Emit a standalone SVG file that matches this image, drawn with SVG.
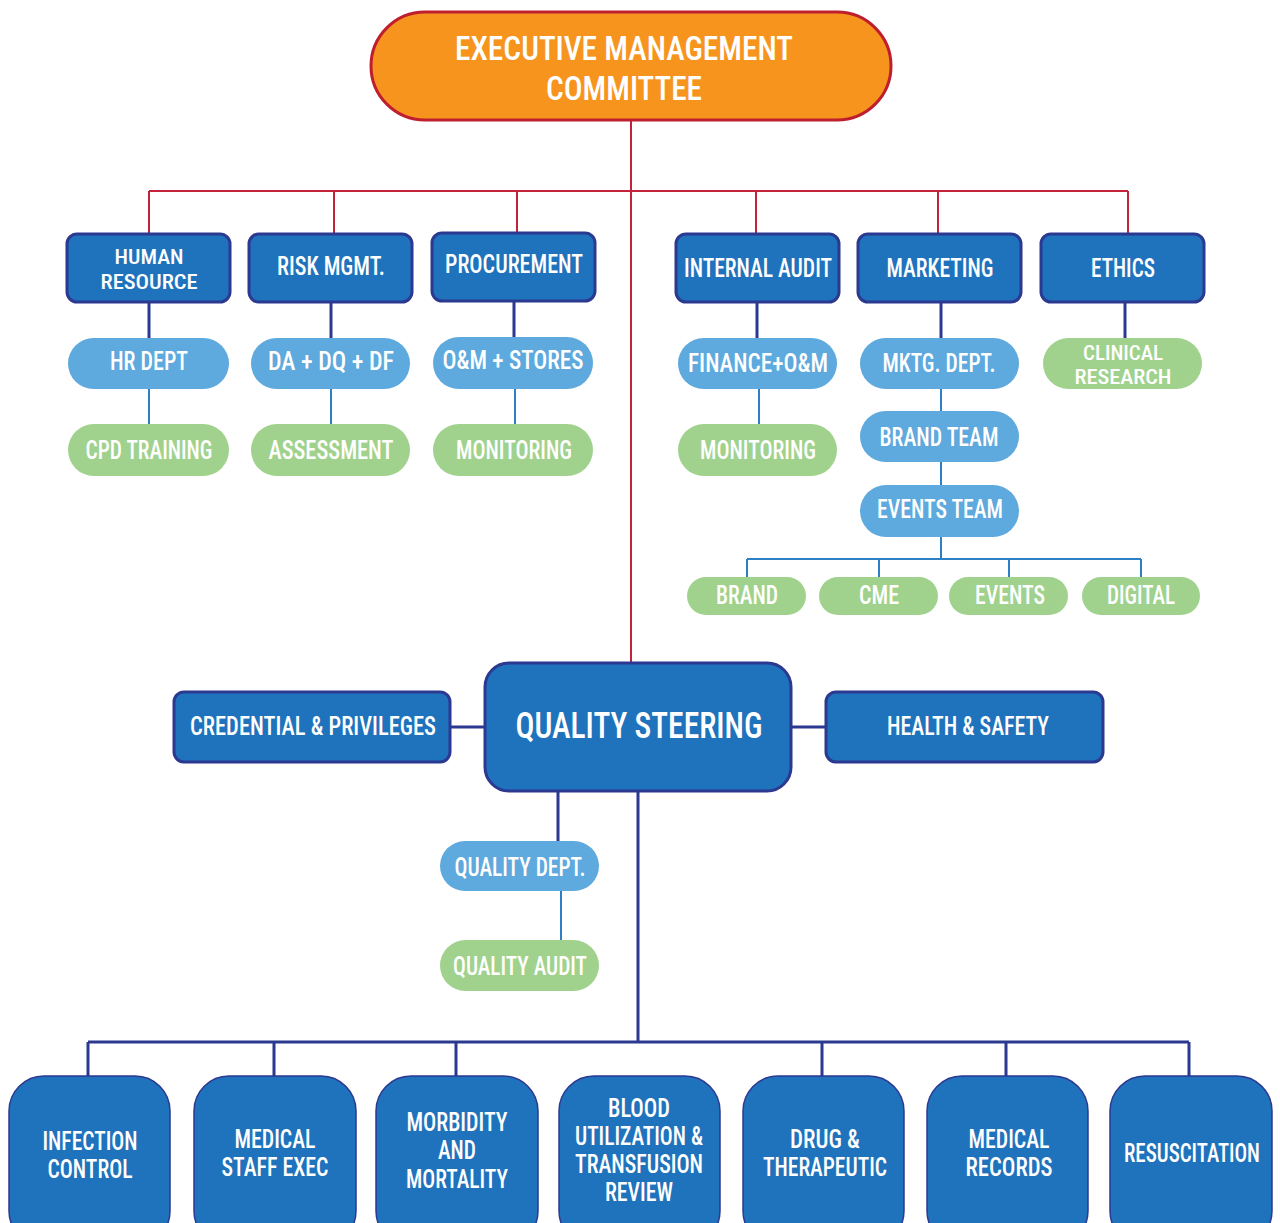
<svg xmlns="http://www.w3.org/2000/svg" width="1280" height="1223" viewBox="0 0 1280 1223">
<style>
text{font-family:"Liberation Sans Narrow","Roboto Condensed","Liberation Sans",Arial,sans-serif;fill:#fff;text-anchor:middle;font-size:25px;font-weight:500}
.xl{font-size:34px}
.qs{font-size:37px}
.sm{font-size:21px}
.dk{fill:#1F73BC;stroke:#2B3990;stroke-width:3}
.bt{fill:#1F73BC;stroke:#2B3990;stroke-width:1.5}
.lb{fill:#5EA9DD}
.gr{fill:#A0D28D}
.red{stroke:#C4213A;stroke-width:2;fill:none}
.nv{stroke:#2B3990;stroke-width:3;fill:none}
.lt{stroke:#2F7FC4;stroke-width:2;fill:none}
</style>
<rect width="1280" height="1223" fill="#fff"/>
<g id="connectors">
<path class="red" d="M631 120V662M149 191H1128M149 191V234M334 191V234M517 191V233M756 191V234M938 191V234M1128 191V234"/>
<path class="nv" d="M149 302V338M331 302V338M514 302V338M757 302V338M941 302V338M1125 302V338"/>
<path class="lt" d="M149 389V424M331 389V424M515 389V424M759 389V424M941 389V411M941 462V485M941 537V559M747 559H1141M747 559V577M879 559V577M1009 559V577M1141 559V577"/>
<path class="nv" d="M450 727H485M791 727H826M558 791V841M638 791V1042M88 1042H1189M88 1042V1076M274 1042V1076M456 1042V1076M822 1042V1076M1006 1042V1076M1189 1042V1076"/>
<path class="lt" d="M561 891V940"/>
</g>
<g id="exec"><rect x="371" y="12" width="520" height="108" rx="54" fill="#F7941E" stroke="#BE1E2D" stroke-width="3"/>
<text class="xl" x="624" y="60" textLength="338" lengthAdjust="spacingAndGlyphs">EXECUTIVE MANAGEMENT</text>
<text class="xl" x="624" y="100" textLength="156" lengthAdjust="spacingAndGlyphs">COMMITTEE</text></g>
<g id="hr"><rect class="dk" x="67" y="234" width="163" height="68" rx="10"/>
<text class="sm" x="149" y="264" textLength="69" lengthAdjust="spacingAndGlyphs">HUMAN</text>
<text class="sm" x="149" y="289" textLength="97" lengthAdjust="spacingAndGlyphs">RESOURCE</text></g>
<g id="risk"><rect class="dk" x="249" y="234" width="163" height="68" rx="10"/>
<text x="331" y="275" textLength="108" lengthAdjust="spacingAndGlyphs">RISK MGMT.</text></g>
<g id="proc"><rect class="dk" x="432" y="233" width="163" height="68" rx="10"/>
<text x="514" y="273" textLength="138" lengthAdjust="spacingAndGlyphs">PROCUREMENT</text></g>
<g id="ia"><rect class="dk" x="676" y="234" width="163" height="68" rx="10"/>
<text x="758" y="277" textLength="148" lengthAdjust="spacingAndGlyphs">INTERNAL AUDIT</text></g>
<g id="mkt"><rect class="dk" x="858" y="234" width="163" height="68" rx="10"/>
<text x="940" y="277" textLength="107" lengthAdjust="spacingAndGlyphs">MARKETING</text></g>
<g id="eth"><rect class="dk" x="1041" y="234" width="163" height="68" rx="10"/>
<text x="1123" y="277" textLength="64" lengthAdjust="spacingAndGlyphs">ETHICS</text></g>
<g id="hrdept"><rect class="lb" x="68" y="338" width="161" height="51" rx="25.5"/>
<text x="149" y="370" textLength="78" lengthAdjust="spacingAndGlyphs">HR DEPT</text></g>
<g id="da"><rect class="lb" x="251" y="338" width="159" height="51" rx="25.5"/>
<text x="331" y="370" textLength="126" lengthAdjust="spacingAndGlyphs">DA + DQ + DF</text></g>
<g id="om"><rect class="lb" x="433" y="337" width="160" height="52" rx="26"/>
<text x="513" y="369" textLength="141" lengthAdjust="spacingAndGlyphs">O&amp;M + STORES</text></g>
<g id="cpd"><rect class="gr" x="68" y="424" width="161" height="52" rx="26"/>
<text x="149" y="459" textLength="127" lengthAdjust="spacingAndGlyphs">CPD TRAINING</text></g>
<g id="assess"><rect class="gr" x="251" y="424" width="159" height="52" rx="26"/>
<text x="331" y="459" textLength="125" lengthAdjust="spacingAndGlyphs">ASSESSMENT</text></g>
<g id="mon1"><rect class="gr" x="433" y="424" width="160" height="52" rx="26"/>
<text x="514" y="459" textLength="116" lengthAdjust="spacingAndGlyphs">MONITORING</text></g>
<g id="fin"><rect class="lb" x="678" y="338" width="159" height="51" rx="25.5"/>
<text x="758" y="372" textLength="140" lengthAdjust="spacingAndGlyphs">FINANCE+O&amp;M</text></g>
<g id="mon2"><rect class="gr" x="678" y="424" width="159" height="52" rx="26"/>
<text x="758" y="459" textLength="116" lengthAdjust="spacingAndGlyphs">MONITORING</text></g>
<g id="mktg"><rect class="lb" x="860" y="338" width="159" height="51" rx="25.5"/>
<text x="939" y="372" textLength="113" lengthAdjust="spacingAndGlyphs">MKTG. DEPT.</text></g>
<g id="brandteam"><rect class="lb" x="860" y="411" width="159" height="51" rx="25.5"/>
<text x="939" y="446" textLength="119" lengthAdjust="spacingAndGlyphs">BRAND TEAM</text></g>
<g id="eventsteam"><rect class="lb" x="860" y="485" width="159" height="52" rx="26"/>
<text x="940" y="518" textLength="126" lengthAdjust="spacingAndGlyphs">EVENTS TEAM</text></g>
<g id="clin"><rect class="gr" x="1043" y="338" width="159" height="51" rx="25.5"/>
<text class="sm" x="1123" y="360" textLength="80" lengthAdjust="spacingAndGlyphs">CLINICAL</text>
<text class="sm" x="1123" y="384" textLength="97" lengthAdjust="spacingAndGlyphs">RESEARCH</text></g>
<g id="brand"><rect class="gr" x="687" y="577" width="119" height="38" rx="19"/>
<text x="747" y="604" textLength="62" lengthAdjust="spacingAndGlyphs">BRAND</text></g>
<g id="cme"><rect class="gr" x="819" y="577" width="119" height="38" rx="19"/>
<text x="879" y="604" textLength="40" lengthAdjust="spacingAndGlyphs">CME</text></g>
<g id="events"><rect class="gr" x="949" y="577" width="119" height="38" rx="19"/>
<text x="1010" y="604" textLength="70" lengthAdjust="spacingAndGlyphs">EVENTS</text></g>
<g id="digital"><rect class="gr" x="1082" y="577" width="118" height="38" rx="19"/>
<text x="1141" y="604" textLength="68" lengthAdjust="spacingAndGlyphs">DIGITAL</text></g>
<g id="qs"><rect class="dk" x="485" y="663" width="306" height="128" rx="24"/>
<text class="qs" x="639" y="738" textLength="247" lengthAdjust="spacingAndGlyphs">QUALITY STEERING</text></g>
<g id="cred"><rect class="dk" x="174" y="692" width="276" height="70" rx="10"/>
<text x="313" y="735" textLength="246" lengthAdjust="spacingAndGlyphs">CREDENTIAL &amp;  PRIVILEGES</text></g>
<g id="hs"><rect class="dk" x="826" y="692" width="277" height="70" rx="10"/>
<text x="968" y="735" textLength="162" lengthAdjust="spacingAndGlyphs">HEALTH &amp; SAFETY</text></g>
<g id="qdept"><rect class="lb" x="440" y="841" width="159" height="50" rx="25"/>
<text x="520" y="876" textLength="131" lengthAdjust="spacingAndGlyphs">QUALITY DEPT.</text></g>
<g id="qaudit"><rect class="gr" x="440" y="940" width="159" height="51" rx="25.5"/>
<text x="520" y="975" textLength="134" lengthAdjust="spacingAndGlyphs">QUALITY AUDIT</text></g>
<g id="infection"><rect class="bt" x="9" y="1076" width="161" height="170" rx="35"/>
<text x="90" y="1150" textLength="95" lengthAdjust="spacingAndGlyphs">INFECTION</text>
<text x="90" y="1178" textLength="85" lengthAdjust="spacingAndGlyphs">CONTROL</text></g>
<g id="medstaff"><rect class="bt" x="194" y="1076" width="162" height="170" rx="35"/>
<text x="275" y="1148" textLength="81" lengthAdjust="spacingAndGlyphs">MEDICAL</text>
<text x="275" y="1176" textLength="107" lengthAdjust="spacingAndGlyphs">STAFF EXEC</text></g>
<g id="morb"><rect class="bt" x="376" y="1076" width="162" height="170" rx="35"/>
<text x="457" y="1131" textLength="101" lengthAdjust="spacingAndGlyphs">MORBIDITY</text>
<text x="457" y="1159" textLength="38" lengthAdjust="spacingAndGlyphs">AND</text>
<text x="457" y="1188" textLength="102" lengthAdjust="spacingAndGlyphs">MORTALITY</text></g>
<g id="blood"><rect class="bt" x="559" y="1076" width="161" height="170" rx="35"/>
<text x="639" y="1117" textLength="62" lengthAdjust="spacingAndGlyphs">BLOOD</text>
<text x="639" y="1145" textLength="128" lengthAdjust="spacingAndGlyphs">UTILIZATION &amp;</text>
<text x="639" y="1173" textLength="128" lengthAdjust="spacingAndGlyphs">TRANSFUSION</text>
<text x="639" y="1201" textLength="68" lengthAdjust="spacingAndGlyphs">REVIEW</text></g>
<g id="drug"><rect class="bt" x="743" y="1076" width="161" height="170" rx="35"/>
<text x="825" y="1148" textLength="70" lengthAdjust="spacingAndGlyphs">DRUG &amp;</text>
<text x="825" y="1176" textLength="124" lengthAdjust="spacingAndGlyphs">THERAPEUTIC</text></g>
<g id="medrec"><rect class="bt" x="927" y="1076" width="161" height="170" rx="35"/>
<text x="1009" y="1148" textLength="81" lengthAdjust="spacingAndGlyphs">MEDICAL</text>
<text x="1009" y="1176" textLength="87" lengthAdjust="spacingAndGlyphs">RECORDS</text></g>
<g id="resus"><rect class="bt" x="1110" y="1076" width="162" height="170" rx="35"/>
<text x="1192" y="1162" textLength="136" lengthAdjust="spacingAndGlyphs">RESUSCITATION</text></g>
</svg>
